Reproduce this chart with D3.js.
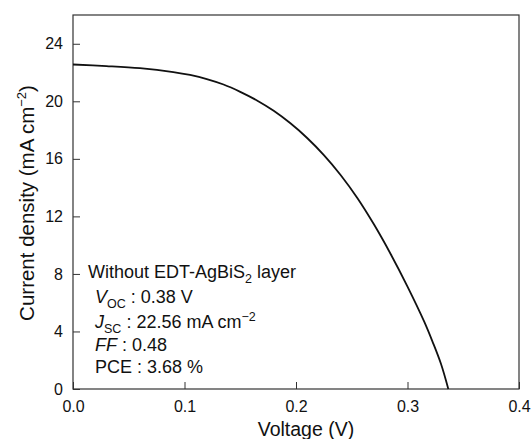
<!DOCTYPE html>
<html>
<head>
<meta charset="utf-8">
<script src="https://cdn.jsdelivr.net/npm/d3@7"></script>
<style>
body{margin:0;background:#fff;}
text{font-family:"Liberation Sans",Arial,sans-serif;fill:#111;}
</style>
</head>
<body>
<script>
// J-V curve
let voltage=[0,0.03,0.06,0.09,0.105,0.12,0.135,0.15,0.165,0.18,0.195,0.21,0.225,0.24,0.255,0.27,0.285,0.30,0.315,0.3225,0.33,0.3366];
let current=[22.56,22.45,22.30,22.03,21.83,21.55,21.17,20.66,20.06,19.34,18.47,17.45,16.26,14.88,13.28,11.43,9.37,7.12,4.68,3.28,1.75,0];
let xTicks=[0,0.1,0.2,0.3,0.4];
let yTicks=[0,4,8,12,16,20,24];

let width=531,height=439;
let m={left:73,top:15,right:12,bottom:50};
let svg=d3.select("body").append("svg").attr("width",width).attr("height",height);

let x=d3.scaleLinear().domain([0,0.4]).range([m.left,width-m.right]);
let y=d3.scaleLinear().domain([0,26]).range([height-m.bottom,m.top]);

//坐标轴
let xAxis=svg.append("g").attr("transform",`translate(0,${y(0)})`)
    .call(d3.axisBottom(x).tickValues(xTicks).tickFormat(d3.format(".1f")).tickSizeInner(-7).tickSizeOuter(0).tickPadding(12));
let yAxis=svg.append("g").attr("transform",`translate(${x(0)},0)`)
    .call(d3.axisLeft(y).tickValues(yTicks).tickSizeInner(-7).tickSizeOuter(0).tickPadding(10));
[xAxis,yAxis].forEach(a=>{
    a.select(".domain").remove();
    a.selectAll("line").attr("stroke","#333");
    a.selectAll("text").style("font-size","16px").style("fill","#111");
});

//边框
svg.append("rect").attr("x",x(0)).attr("y",y(26)).attr("width",x(0.4)-x(0)).attr("height",y(0)-y(26))
    .attr("fill","none").attr("stroke","#333").attr("stroke-width",1.2);

//曲线
let data=voltage.map((v,i)=>({v:v,j:current[i]}));
svg.append("path").datum(data)
    .attr("d",d3.line().x(d=>x(d.v)).y(d=>y(d.j)).curve(d3.curveCatmullRom.alpha(0.5)))
    .attr("fill","none").attr("stroke","#111").attr("stroke-width",1.8);

//轴标题
svg.append("text").attr("x",306).attr("y",436).attr("text-anchor","middle")
    .style("font-size","19.5px").text("Voltage (V)");
let yl=svg.append("text").attr("transform",`translate(34,203) rotate(-90)`)
    .attr("text-anchor","middle").style("font-size","20.5px");
yl.append("tspan").text("Current density (mA cm");
yl.append("tspan").attr("dy",-8).style("font-size","13px").text("\u22122");
yl.append("tspan").attr("dy",8).text(")");

//注释
let fs="18px",sub="12.5px";
let t1=svg.append("text").attr("x",88).attr("y",278).style("font-size",fs);
t1.append("tspan").text("Without EDT-AgBiS");
t1.append("tspan").attr("dy",5).style("font-size",sub).text("2");
t1.append("tspan").attr("dy",-5).text(" layer");

let t2=svg.append("text").attr("x",95).attr("y",303).style("font-size",fs);
t2.append("tspan").style("font-style","italic").text("V");
t2.append("tspan").attr("dy",5).style("font-size",sub).text("OC");
t2.append("tspan").attr("dy",-5).text(" : 0.38 V");

let t3=svg.append("text").attr("x",95).attr("y",328).style("font-size",fs);
t3.append("tspan").style("font-style","italic").text("J");
t3.append("tspan").attr("dy",5).style("font-size",sub).text("SC");
t3.append("tspan").attr("dy",-5).text(" : 22.56 mA cm");
t3.append("tspan").attr("dy",-7).style("font-size",sub).text("\u22122");

let t4=svg.append("text").attr("x",95).attr("y",351).style("font-size",fs);
t4.append("tspan").style("font-style","italic").text("FF");
t4.append("tspan").text(" : 0.48");

svg.append("text").attr("x",95).attr("y",373).style("font-size",fs).text("PCE : 3.68 %");
</script>
</body>
</html>
